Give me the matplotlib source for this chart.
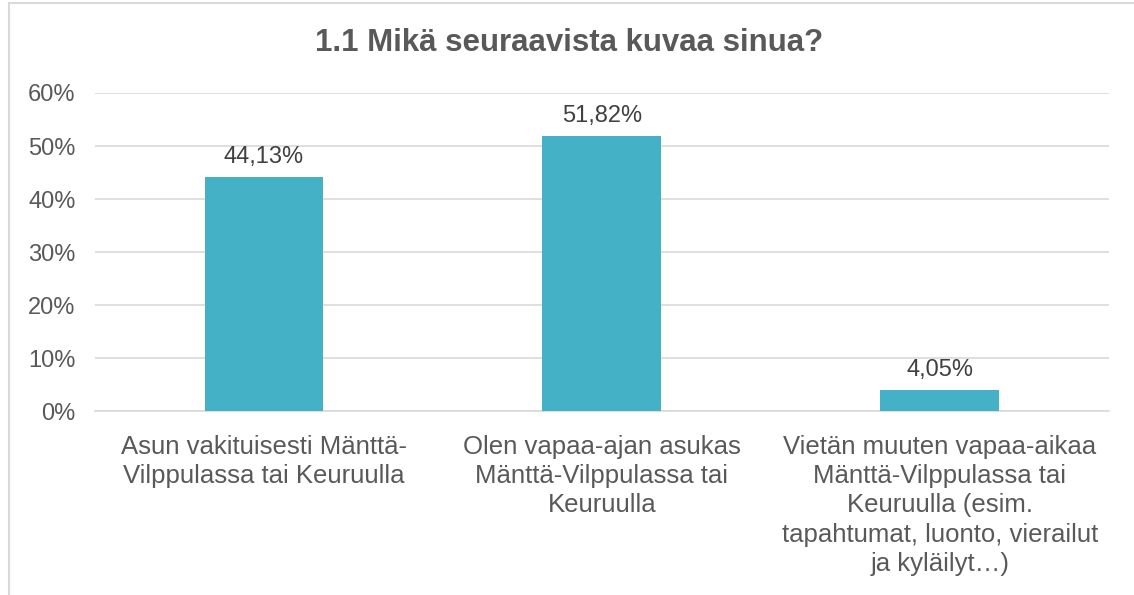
import matplotlib.pyplot as plt
from matplotlib.patches import Rectangle

# survey answers, share of respondents
categories = [
    "Asun vakituisesti Mänttä-\nVilppulassa tai Keuruulla",
    "Olen vapaa-ajan asukas\nMänttä-Vilppulassa tai\nKeuruulla",
    "Vietän muuten vapaa-aikaa\nMänttä-Vilppulassa tai\nKeuruulla (esim.\ntapahtumat, luonto, vierailut\nja kyläilyt…)",
]
shares = [0.4413, 0.5182, 0.0405]
yticks = [0, 0.1, 0.2, 0.3, 0.4, 0.5, 0.6]
title = "1.1 Mikä seuraavista kuvaa sinua?"

plt.rcParams['font.family'] = ['Liberation Sans', 'DejaVu Sans']
text_col = '#595959'
grid_col = '#D9D9D9'
bar_col = '#44B1C6'

fig = plt.figure(figsize=(11.34, 5.95), dpi=100)
# chart frame, cut off at right and bottom like in the original
fig.patches.append(Rectangle((9 / 1134, -0.1), 1.2, 1 - 3 / 595 + 0.1,
                             transform=fig.transFigure, fill=False,
                             edgecolor=grid_col, linewidth=1.5))

ax = fig.add_axes([0.0838, 0.3092, 0.8940, 0.5345])
x = range(len(categories))
ax.bar(x, shares, width=0.352, color=bar_col, zorder=3)
for i, v in enumerate(shares):
    ax.annotate(f"{v * 100:.2f}%".replace('.', ','), (i, v),
                xytext=(0, 6.5), textcoords='offset points',
                ha='center', va='bottom', fontsize=17, color='#404040')

ax.set_xlim(-0.5, len(categories) - 0.5)
ax.set_ylim(0, 0.6)
ax.set_yticks(yticks)
ax.set_yticklabels([f"{int(round(t * 100))}%" for t in yticks])
ax.set_xticks(list(x))
ax.set_xticklabels(categories, linespacing=1.28, fontsize=18.5)
ax.tick_params(axis='y', length=0, labelsize=17, labelcolor=text_col, pad=14)
ax.tick_params(axis='x', length=0, labelcolor=text_col, pad=17)
ax.grid(axis='y', color=grid_col, linewidth=1.2, zorder=0)
for s in ['top', 'right', 'left']:
    ax.spines[s].set_visible(False)
ax.spines['bottom'].set_color(grid_col)
ax.spines['bottom'].set_linewidth(1.2)

fig.text(0.5015, 0.927, title, ha='center', va='center',
         fontsize=22.5, fontweight='bold', color=text_col)

fig.savefig('out.png', dpi=100)
